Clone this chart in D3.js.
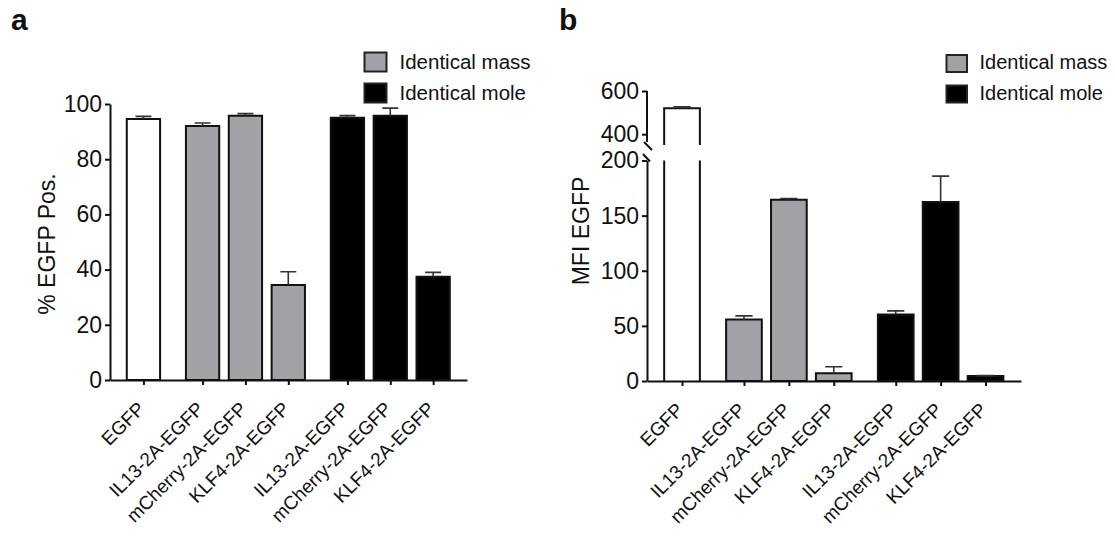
<!DOCTYPE html>
<html>
<head>
<meta charset="utf-8">
<script src="https://cdn.jsdelivr.net/npm/d3@7"></script>
<style>
body { margin: 0; background: #fff; }
text { font-family: "Liberation Sans", Arial, Helvetica, sans-serif; fill: #111; }
</style>
</head>
<body>
<svg width="1115" height="539"></svg>
<script>
// data
var categories = ['EGFP', 'IL13-2A-EGFP', 'mCherry-2A-EGFP', 'KLF4-2A-EGFP',
    'IL13-2A-EGFP', 'mCherry-2A-EGFP', 'KLF4-2A-EGFP'];
var groups = ['control', 'mass', 'mass', 'mass', 'mole', 'mole', 'mole'];
var pctPos = [94.6, 92.0, 95.7, 34.4, 95.0, 95.7, 37.4];
var pctErr = [0.9, 1.1, 0.8, 4.8, 0.8, 2.8, 1.6];
var mfi = [520, 55.8, 164.4, 7.0, 60.4, 162.3, 4.5];
var mfiErr = [7, 3.3, 1.2, 5.9, 3.2, 23.5, 0.4];
var legendKeys = ['mass', 'mole'];
var legendLabels = ['Identical mass', 'Identical mole'];
var ticksA = [0, 20, 40, 60, 80, 100];
var ticksBLow = [0, 50, 100, 150, 200];
var ticksBUp = [400, 600];

var fills = d3.scaleOrdinal()
    .domain(['control', 'mass', 'mole'])
    .range(['#ffffff', '#a2a2a6', '#000000']);
var groupIndex = {control: 0, mass: 1, mole: 2};

// each bar sits on a slot, groups get a little extra gap
var slots = categories.map(function(c, i) {
    return i + groupIndex[groups[i]] * 0.38;
});

var svg = d3.select('svg');
svg.append('rect').attr('width', 1115).attr('height', 539).attr('fill', '#fff');

function styleAxis(g, size) {
    g.attr('font-size', size).attr('font-family', '"Liberation Sans", Arial, sans-serif');
    g.select('.domain').attr('stroke', '#111').attr('stroke-width', 2);
    g.selectAll('.tick line').attr('stroke', '#111').attr('stroke-width', 2);
    g.selectAll('.tick text').attr('fill', '#111');
}

function xAxis(g, x, y0) {
    var ax = g.append('g')
        .attr('transform', 'translate(0,' + y0 + ')')
        .call(d3.axisBottom(x).tickValues(slots)
            .tickFormat(function(d, i) { return categories[i]; })
            .tickSize(5).tickSizeOuter(0));
    styleAxis(ax, 19);
    ax.selectAll('.tick text')
        .attr('x', 0).attr('y', 0).attr('dy', 0)
        .style('text-anchor', 'end')
        .attr('transform', 'translate(2,30)rotate(-45)');
}

// bars + error bars; brk = {top, bottom} when the bar crosses the axis break
function drawBars(g, x, bw, values, errs, yOf, y0, brk) {
    var data = values.map(function(v, i) {
        return {v: v, e: errs[i], x: x(slots[i]), fill: fills(groups[i])};
    });
    var bars = g.selectAll('g.bar').data(data).enter().append('g').classed('bar', true);

    bars.append('path')
        .attr('fill', function(d) { return d.fill; })
        .attr('stroke', '#111')
        .attr('stroke-width', 2)
        .attr('d', function(d) {
            var l = d.x - bw / 2, r = d.x + bw / 2, t = yOf(d.v);
            if (brk && t < brk.top) {
                return 'M' + l + ',' + brk.top + 'V' + t + 'H' + r + 'V' + brk.top +
                    'M' + l + ',' + brk.bottom + 'V' + y0 + 'M' + r + ',' + brk.bottom + 'V' + y0;
            }
            return 'M' + l + ',' + y0 + 'V' + t + 'H' + r + 'V' + y0 + 'Z';
        });

    // fill for broken bars (drawn under the outline)
    bars.filter(function(d) { return brk && yOf(d.v) < brk.top; })
        .insert('rect', 'path')
        .attr('x', function(d) { return d.x - bw / 2; })
        .attr('y', function(d) { return yOf(d.v); })
        .attr('width', bw)
        .attr('height', function(d) { return y0 - yOf(d.v); })
        .attr('fill', function(d) { return d.fill; });

    var cw = bw * 0.48;
    bars.append('path')
        .attr('fill', 'none')
        .attr('stroke', '#333')
        .attr('stroke-width', 1.6)
        .attr('d', function(d) {
            var t = yOf(d.v), te = yOf(d.v + d.e);
            return 'M' + d.x + ',' + t + 'V' + te +
                'M' + (d.x - cw / 2) + ',' + te + 'H' + (d.x + cw / 2);
        });
}

function legend(g, x, ys, w, h, tx, bases, size) {
    legendKeys.forEach(function(k, i) {
        g.append('rect')
            .attr('x', x).attr('y', ys[i]).attr('width', w).attr('height', h)
            .attr('fill', fills(k)).attr('stroke', '#222').attr('stroke-width', 2);
        g.append('text')
            .attr('x', tx).attr('y', bases[i])
            .attr('font-size', size)
            .text(legendLabels[i]);
    });
}

/* ---------------- panel a ---------------- */
var ga = svg.append('g');
var xa = d3.scaleLinear().domain([-0.78, 7.55]).range([110, 467]);
var ya = d3.scaleLinear().domain([0, 100]).range([380, 104]);

drawBars(ga, xa, 33.3, pctPos, pctErr, ya, 380);

var yaxA = ga.append('g')
    .attr('transform', 'translate(110,0)')
    .call(d3.axisLeft(ya).tickValues(ticksA).tickSize(5).tickPadding(3).tickSizeOuter(0));
styleAxis(yaxA, 23);
xAxis(ga, xa, 380);

ga.append('text')
    .attr('transform', 'translate(55,244)rotate(-90)')
    .attr('text-anchor', 'middle')
    .attr('font-size', 23)
    .text('% EGFP Pos.');

ga.append('text')
    .attr('x', 11).attr('y', 30)
    .attr('font-size', 30).attr('font-weight', 'bold')
    .text('a');

legend(ga, 364.5, [52.5, 83.5], 22, 19, 399.5, [68.5, 99.5], 20.5);

/* ---------------- panel b ---------------- */
var gb = svg.append('g');
var xb = d3.scaleLinear().domain([-0.78, 7.55]).range([647, 1021]);
var yLow = d3.scaleLinear().domain([0, 200]).range([381, 160.5]);
var yUp = d3.scaleLinear().domain([350, 600]).range([145, 91]);
function yb(v) { return v > 200 ? yUp(v) : yLow(v); }

drawBars(gb, xb, 35.7, mfi, mfiErr, yb, 381, {top: 145, bottom: 160.5});

var axB = 647;
var yaxLow = gb.append('g')
    .attr('transform', 'translate(' + axB + ',0)')
    .call(d3.axisLeft(yLow).tickValues(ticksBLow).tickSize(5).tickPadding(3).tickSizeOuter(0));
styleAxis(yaxLow, 23);
var yaxUp = gb.append('g')
    .attr('transform', 'translate(' + axB + ',0)')
    .call(d3.axisLeft(yUp).tickValues(ticksBUp).tickSize(5).tickPadding(3).tickSizeOuter(0));
styleAxis(yaxUp, 23);
yaxUp.select('.domain').remove();
gb.append('line')
    .attr('x1', axB).attr('x2', axB).attr('y1', yUp(600)).attr('y2', 142)
    .attr('stroke', '#111').attr('stroke-width', 2);
// axis break marks
gb.append('path')
    .attr('fill', 'none').attr('stroke', '#111').attr('stroke-width', 2)
    .attr('d', 'M' + (axB - 3) + ',142L' + (axB + 5) + ',150' +
        'M' + (axB - 4) + ',154L' + (axB + 3) + ',161.5');

xAxis(gb, xb, 381);

gb.append('text')
    .attr('transform', 'translate(589,231)rotate(-90)')
    .attr('text-anchor', 'middle')
    .attr('font-size', 23)
    .text('MFI EGFP');

gb.append('text')
    .attr('x', 559).attr('y', 29.5)
    .attr('font-size', 30).attr('font-weight', 'bold')
    .text('b');

legend(gb, 946.5, [55, 85.5], 20.5, 17, 979.5, [69, 99.5], 20);
</script>
</body>
</html>
